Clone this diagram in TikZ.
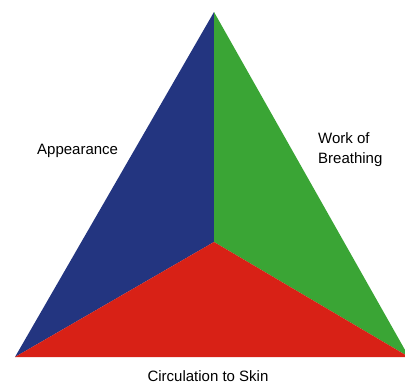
\documentclass[tikz,border=0pt]{standalone}
\usepackage{fontspec}
\setmainfont{Liberation Sans}
\usetikzlibrary{positioning}
\definecolor{apblue}{RGB}{35,53,128}
\definecolor{wbgreen}{RGB}{58,165,53}
\definecolor{csred}{RGB}{216,33,22}
\tikzset{lbl/.style={inner sep=0pt, font=\fontsize{15}{18}\selectfont}}
\begin{document}
\begin{tikzpicture}[x=1pt,y=-1pt]
\useasboundingbox (0,0) rectangle (405,383);
\clip (0,0) rectangle (405,383);
\coordinate (top) at (214,12);
\coordinate (left) at (15,357);
\coordinate (right) at (409,357);
\coordinate (mid) at (214,242);
\fill[apblue] (top) -- (left) -- (mid) -- cycle;
\fill[wbgreen] (top) -- (mid) -- (right) -- cycle;
\fill[csred] (left) -- (mid) -- (right) -- cycle;
\node[lbl, anchor=base west] (appear) at (37,154) {Appearance};
\node[lbl, anchor=base west] (work) at (318,143) {Work of};
\node[lbl, anchor=base west] (breath) at (318,163) {Breathing};
\node[lbl, anchor=base] (circ) at (208,381) {Circulation to Skin};
\end{tikzpicture}
\end{document}
